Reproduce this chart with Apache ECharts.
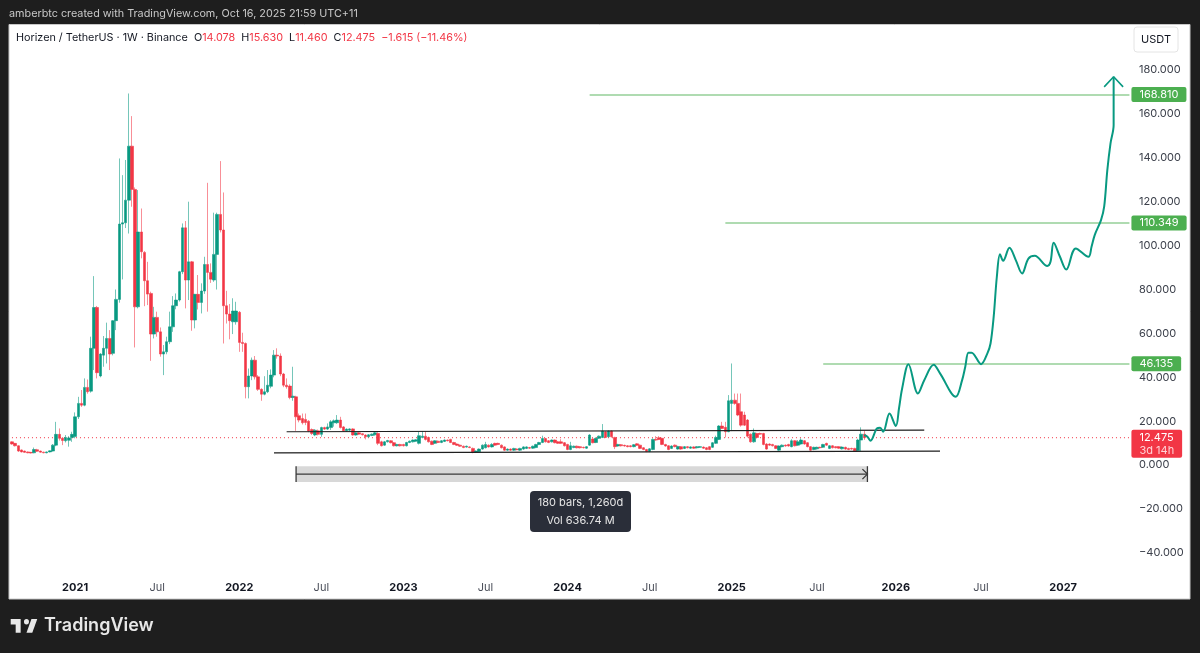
<!DOCTYPE html>
<html>
<head>
<meta charset="utf-8">
<title>Horizen / TetherUS</title>
<style>
html, body { margin: 0; padding: 0; background: #1e1e1e; }
#main { width: 1200px; height: 653px; }
</style>
<script src="https://cdn.jsdelivr.net/npm/echarts@6/dist/echarts.min.js"></script>
</head>
<body>
<div id="main"></div>
<script>
// weekly bars: open, close, low, high
var candles = [
[10.6,9.6,9.3,10.8],[9.9,8.8,8.5,10.1],[8.8,6.4,6,9],[6.9,6,5.8,7.1],[6.4,5.8,5.6,6.6],[6,5.6,5.4,6.2],[5.8,5.5,5.3,6],[5.6,7.1,5.4,8],[7,6.3,6,7.4],[6.4,5.9,5.7,6.6],
[5.9,5.6,5.4,6.1],[5.6,6,5.4,6.2],[6,6.5,5.8,6.7],[6.4,9.1,6.2,9.6],[9.1,14,8.6,19.7],[14,12.2,11.2,16.7],[12.2,11.2,9.1,12.8],[11.1,12.6,10.3,13.7],[11.3,12.4,8.4,13.2],[12.6,14,10.6,15.2],
[13,22,12.2,24],[22,28.1,21,31.1],[28.1,27.3,26.5,34.2],[27.3,35.4,26.8,39.5],[35.4,33.4,32.5,39],[33.7,53.2,33,58.5],[53.2,71.8,43.3,86.1],[71.8,42.1,39.5,72.5],[40.6,50.6,40,51],[50.1,53.2,44.8,58.8],
[53.2,57.7,46.3,64.9],[57.7,50.6,43.3,61.5],[50.9,65.8,50,66.1],[65.8,75.5,61.5,80],[75.5,109.8,74,139.7],[109.8,110.4,84.6,132.1],[110.4,120.7,108,139],[120.7,145.3,105.5,169.3],[145.3,125.6,117.7,159],[125.6,72.1,53.6,126.5],
[72.1,106.2,71.4,125.3],[106.2,97.2,94.2,116.9],[96.9,84,72.4,97.5],[84,77.9,72.9,92.6],[78.2,59.7,47.5,79],[59.7,67.3,57.7,72.1],[67.3,60.7,58.5,69.9],[60.7,50.6,49.4,62.7],[50.6,51.6,41,54.7],[51.6,56.2,50.5,58.5],
[56.2,63,55.1,69.9],[63,72.6,60.7,77],[72.6,75.2,71,78.2],[75.2,88.1,74.5,88.5],[88.1,108.1,87,110.1],[108.1,84.3,71.4,111.2],[84.3,92.6,75.2,120],[92.6,66.1,61.2,93],[66.1,77.8,62.3,78],[77.8,74.1,70.9,86.6],
[74.1,79.3,69.1,82.8],[79.3,91.4,78,94.9],[91.4,87.8,69.9,128.6],[87.8,84.7,83,91.9],[84.3,96,83.5,115],[96,114.2,80,115],[114.2,107.1,106,138.5],[107.1,72.6,55.4,124.2],[72.6,68.8,64.5,79.4],[68.8,65.8,57.3,73.4],
[65.3,70.2,59.7,76],[65.3,70.2,64,74.4],[69.6,55.9,51.6,70.2],[55.9,55.4,51.6,60.3],[55.4,35.7,30.4,55.9],[35.7,40.6,30.4,44],[40.6,47.8,38.7,49],[47.8,40.2,39,49.7],[40.2,34.5,33.8,41],[34.5,32.3,29.3,35],
[32.3,33.4,31.8,40.5],[33.4,36.4,32.8,43.3],[35.9,41,35,43.6],[41,50.1,40,52.4],[50.1,49.7,48.5,53.2],[49.7,41.5,40.5,50.9],[41.5,36.4,35.5,42],[36.4,35.7,34.8,39.5],[36,30.8,30,36.8],[30.8,31.4,29.3,44.8],
[31.1,22,15.6,31.6],[22.5,20.5,19.5,23.5],[21.2,19.3,18.5,23.5],[20.8,19.4,18.2,23.5],[20,15.5,15,20.5],[16.2,14.4,13.7,16.7],[13.7,15.9,13.2,16.4],[15.6,14,13.5,16.2],[14,17.1,12.9,17.5],[17.1,16.4,16,17.5],
[16.4,17.4,16,19],[17.1,19.7,16,20.5],[19.3,20.2,17.5,20.8],[19.3,20.5,18.8,22.8],[20.5,17.1,16.7,22],[17.4,15.6,15.2,17.8],[15.6,16.4,15.2,16.7],[15.9,16.5,15.5,16.8],[16.5,13.7,13.4,16.8],[13.7,14.7,13.4,15],
[14.7,14.1,13.8,15],[14.3,13.8,13.5,14.5],[13.7,12.9,11.7,14],[12.9,13.8,12.6,14.1],[13.5,14.1,13.2,14.4],[13.8,14.7,13.4,15.2],[14.4,9.9,9.1,15],[10.6,8.8,8.5,11.1],[9.1,10.6,8.8,11],[10.6,11.2,10.3,11.5],
[11.1,10.2,9.9,11.4],[10.2,8.8,8.5,10.5],[8.8,9.4,8.5,9.7],[9.4,8.8,8.5,9.7],[9.4,8.8,8.5,9.7],[8.8,10.3,8.5,10.6],[10.3,10.9,10,11.2],[10.6,11.4,10.3,11.7],[10.9,11.5,10.6,11.8],[9.9,13.4,9.4,15.2],
[12.6,13.2,12.2,15.5],[13.2,11.7,11.2,15.2],[12.6,10.6,10.3,13],[10.9,9.4,9.1,11.2],[9.9,11.1,9.6,11.4],[10.9,10.3,10,11.2],[10.3,11.1,10,11.4],[10.8,11.4,10.5,11.7],[11.4,11.1,10.8,11.7],[11.7,10.3,10,12],
[10.3,9.4,9.1,10.6],[9.6,9,8.7,9.9],[9.1,8.6,8.3,9.4],[8.6,8,7.7,8.9],[8.2,8.6,7.9,8.9],[8.3,8,7.7,8.6],[7.6,5.8,5.4,8],[5.8,6.4,5.5,6.7],[6.1,7.3,5.8,7.6],[7.3,9.1,7,9.4],
[7.9,9.4,7.6,10.6],[9.1,8.3,8,9.4],[8.3,9.4,8,10],[9.9,9.1,8.8,10.2],[9.9,9.4,9.1,10.2],[9.1,7.9,7.6,9.4],[8.3,6.8,6.5,8.6],[6.8,7.3,6.5,7.6],[7.3,6.8,6.5,7.6],[6.8,7.6,6.5,7.9],
[7.3,7,6.8,7.6],[6.8,7.6,6.5,7.9],[7.3,8.3,7,8.6],[7.6,8.3,7.3,8.6],[8,7.7,7.4,8.3],[7.7,8.6,7.4,8.9],[8,9.4,7.7,9.7],[9.4,10.3,9.1,10.6],[10.3,12.1,10,13.4],[12.1,10.6,10.3,12.4],
[11.1,10.3,10,11.4],[10.6,11.4,10.3,11.7],[11.4,10.2,9.9,11.7],[10.6,9.9,9.6,11],[10.6,9.9,9.6,11.8],[10.2,8.8,8.5,10.5],[9.4,7.1,6.8,9.7],[7.1,8.8,6.8,10.6],[8,8.6,7.7,8.9],[8.6,7.9,7.6,8.9],
[8.4,7.9,7.6,8.7],[8.1,7.9,7.6,8.4],[7.7,8.4,7.4,8.7],[9.1,13.7,8.8,14.1],[11.9,10.2,9.9,12.2],[10.3,12.2,10,12.6],[12.2,13.2,11.9,13.5],[12.6,15.5,12.3,18.7],[15.2,12.6,12.3,15.5],[12.9,15.5,12.6,15.8],
[15.5,12.9,12.6,15.8],[12.6,8.4,7.3,12.9],[8.7,9.4,8.4,9.7],[9.3,8.8,8.5,9.6],[9,8.7,8.4,9.3],[8.8,8.4,8.1,9.1],[8.8,8.4,8.1,9.1],[8.4,9.3,8.1,9.6],[9.7,9,8.7,10],[9.1,7.6,7.3,9.4],
[7.9,7.1,6.8,8.2],[7.1,6.2,5.9,7.4],[6.2,7.4,5.9,7.7],[7.1,11.7,6.8,12.2],[11.7,11.4,11.1,13.2],[12.5,11.7,11.4,13.2],[12.2,9.4,9.1,12.5],[9.4,8.7,8.4,9.7],[8.8,7.1,6.8,9.1],[7.6,8.7,7.3,9],
[9.1,8.4,8.1,9.4],[7.3,8.5,7,8.8],[8.4,7.3,7,8.7],[7.6,8.4,7.3,8.7],[8.4,7.9,7.6,8.7],[7.7,8.3,7.4,8.6],[8.3,7.7,7.4,8.6],[7.9,8.4,7.6,8.7],[8.1,8.4,7.8,8.7],[8.2,7.7,7.4,8.5],
[7.9,7.1,6.8,8.2],[8.4,7.1,6.8,8.7],[8.1,10.2,7.8,10.5],[9.9,12.6,9.6,13.4],[11.7,17.8,11.4,18.2],[17.8,16.7,16.4,19.7],[17.2,15.2,12.6,19.7],[15.2,29.3,15,31.9],[28.1,29.6,15.5,46.3],[29.6,28.1,27.5,32.6],
[28.1,22.8,22.3,32.6],[24.3,18.2,17.5,32.6],[22.8,18.2,17.8,24.3],[20.5,13.2,12.6,21],[14.1,10.6,10.2,14.4],[10.6,14.7,10.2,16.7],[14.4,12.6,12.2,14.7],[14.4,14.1,13.8,14.8],[14.4,9.4,9,14.7],[9.6,7.3,7,10],
[9.6,9.1,8.8,9.9],[9.4,8.8,8.5,9.7],[8.8,7.6,7.3,9.1],[6.8,8.7,6.5,9],[8.4,9.1,8.1,9.4],[9.1,8.7,8.4,9.4],[9.4,8.7,8.4,9.7],[8.4,11.1,8.1,11.8],[11.1,8.8,8.5,11.4],[9.1,10.6,8.8,11.4],
[9.6,11.4,9.3,12.2],[11.1,9.6,9.3,11.4],[10.2,8.4,8.1,10.5],[8.4,6.8,6.5,8.7],[7.1,8.1,6.8,8.4],[7.4,8.1,7.1,8.4],[8.1,7.9,7.6,8.4],[8.1,9.4,7.8,9.7],[9.9,9.1,8.8,10.2],[7.6,8.8,7.3,9.1],
[8.8,7.9,7.6,9.1],[8.4,7.9,7.6,8.7],[8.4,7.7,7.4,8.7],[7.4,8.2,7.1,8.5],[8.1,7.3,7,8.4],[7.6,7.1,6.8,7.9],[7.6,7.3,7,7.9],[7.6,6.5,6.2,7.9],[6.6,11.4,6.2,12],[11.4,14.09,6.2,17.2],
[14.078,12.475,11.46,15.63]
];
var barCount = 355;

// x axis ticks, by bar number
var tickBars = [20,46,72,98,124,150,176,202,228,255,280,307,333];
var tickNames = ['2021','Jul','2022','Jul','2023','Jul','2024','Jul','2025','Jul','2026','Jul','2027'];

// hand drawn forecast
var curveBars = [270,271,272,274,275,276,278,280,281,282,284,287,289,292,294,299,301,302,303,304,307,309,310,311,312,313,314,316,318,320,322,324,328,329,330,332,334,337,341,342,343,345,346,347,348,349,349];
var curveVals = [13.7,12.9,11.1,16.7,17,15.2,23.5,17.8,25.8,34.9,46,32.6,38.7,45.7,41.8,31.1,38.7,44.8,51.2,51.2,46,50.9,55.4,67.6,85.8,96.1,93.1,99,93.4,87.3,94.1,95.4,90.7,92.6,101.3,94.9,89.1,98.7,94.9,99.5,104.8,111.6,117.7,134.4,146.5,154.9,176.9];
var arrowBars = [346,349,352];
var arrowVals = [172.3,176.9,172.3];

// price targets
var levelVals = [168.81,110.349,46.135];
var levelFrom = [183,226,257];

var lastPrice = 12.475;

// range channel
var upperBars = [87,289], upperVals = [15.2,15.9];
var lowerBars = [83,294], lowerVals = [5.6,6.4];

// measure tool: first bar, last bar, top, bottom, middle
var ruler = [90,271,-0.5,-7.7,-4.1];

var chart = echarts.init(document.getElementById('main'));

var upColor = '#089981';
var downColor = '#F23645';
var levelColor = '#4CAF50';
var fontName = 'Inter, Roboto, sans-serif';

var categories = [];
var startDay = new Date(Date.UTC(2020, 7, 17));
for (var i = 0; i < barCount; i++) {
	var d = new Date(startDay.getTime() + i * 7 * 86400000);
	categories.push(d.toISOString().slice(0, 10));
}

function zipPoints(xs, ys) {
	var pts = [];
	for (var i = 0; i < xs.length; i++) {
		pts.push([xs[i], ys[i]]);
	}
	return pts;
}

function simpleLine(xs, ys, color, width, smooth, z) {
	return {
		type: 'line',
		data: zipPoints(xs, ys),
		symbol: 'none',
		smooth: smooth,
		z: z,
		silent: true,
		lineStyle: { color: color, width: width }
	};
}

var levelLines = [];
for (var k = 0; k < levelVals.length; k++) {
	levelLines.push([
		{ coord: [levelFrom[k], levelVals[k]] },
		{
			coord: [barCount - 1, levelVals[k]],
			label: { formatter: levelVals[k].toFixed(3) }
		}
	]);
}

// dotted line at the last close, its tag sits on the last bar of the axis
var priceLine = simpleLine([0, barCount - 1], [lastPrice, lastPrice], downColor, 1, false, 2);
priceLine.lineStyle.type = [1, 3];
priceLine.endLabel = {
	show: true,
	distance: 2,
	offset: [0, 6],
	formatter: '{a|' + lastPrice.toFixed(3) + '}\n{b|3d 14h}',
	backgroundColor: downColor,
	borderRadius: 2,
	padding: [1, 8, 1, 8],
	rich: {
		a: { color: '#fff', fontSize: 11, lineHeight: 13, fontFamily: fontName },
		b: { color: '#ffd2d6', fontSize: 11, lineHeight: 13, fontFamily: fontName }
	}
};

function renderRuler(params, api) {
	var left = api.coord([api.value(0), api.value(2)]);
	var right = api.coord([api.value(1), api.value(3)]);
	var mid = api.coord([api.value(1), api.value(4)])[1];
	var x0 = left[0], x1 = right[0], top = left[1], bottom = right[1];
	var stroke = { stroke: '#3a3a3a', lineWidth: 1.3, fill: null };
	return {
		type: 'group',
		children: [
			{ type: 'rect', shape: { x: x0, y: top, width: x1 - x0, height: bottom - top }, style: { fill: '#d8d8d8' } },
			{ type: 'line', shape: { x1: x0, y1: mid, x2: x1, y2: mid }, style: stroke },
			{ type: 'line', shape: { x1: x0, y1: top, x2: x0, y2: bottom }, style: stroke },
			{ type: 'line', shape: { x1: x1, y1: top, x2: x1, y2: bottom }, style: stroke },
			{ type: 'polyline', shape: { points: [[x1 - 5, mid - 5], [x1, mid], [x1 - 5, mid + 5]] }, style: stroke }
		]
	};
}

var option = {
	animation: false,
	backgroundColor: '#1e1e1e',
	textStyle: { fontFamily: fontName },
	graphic: [
		{ type: 'rect', z: -10, shape: { x: 9, y: 24.5, width: 1181, height: 574.5 }, style: { fill: '#fff', stroke: '#c8c8c8', lineWidth: 1 } },
		{ type: 'text', x: 9, y: 8, style: { text: 'amberbtc created with TradingView.com, Oct 16, 2025 21:59 UTC+11', fill: '#c9c9c9', font: '10.8px ' + fontName } },
		{
			type: 'text', x: 16, y: 32, z: 20,
			style: {
				text: '{k|Horizen / TetherUS · 1W · Binance}  {k|O}{r|14.078}  {k|H}{r|15.630}  {k|L}{r|11.460}  {k|C}{r|12.475}  {r|−1.615 (−11.46%)}',
				font: '10.8px ' + fontName,
				rich: {
					k: { fill: '#131722', fontSize: 10.8, fontFamily: fontName },
					r: { fill: downColor, fontSize: 10.8, fontFamily: fontName }
				}
			}
		},
		{ type: 'rect', z: 20, shape: { x: 1134, y: 27, width: 44, height: 25, r: 3 }, style: { fill: '#fff', stroke: '#e4e4e4', lineWidth: 1 } },
		{ type: 'text', z: 21, x: 1156, y: 39.5, style: { text: 'USDT', fill: '#131722', font: '11px ' + fontName, align: 'center', verticalAlign: 'middle' } },
		{ type: 'rect', z: 20, shape: { x: 530, y: 491, width: 101, height: 41, r: 4 }, style: { fill: '#2a2e39' } },
		{ type: 'text', z: 21, x: 580.5, y: 503, style: { text: '180 bars, 1,260d', fill: '#e6e6e6', font: '11px ' + fontName, align: 'center', verticalAlign: 'middle' } },
		{ type: 'text', z: 21, x: 580.5, y: 521, style: { text: 'Vol 636.74 M', fill: '#e6e6e6', font: '11px ' + fontName, align: 'center', verticalAlign: 'middle' } },
		{
			type: 'group', x: 10.7, y: 619, scaleX: 0.83, scaleY: 0.91, z: 20,
			children: [
				{ type: 'polygon', shape: { points: [[0,0],[12,0],[12,15],[6,15],[6,6],[0,6]] }, style: { fill: '#e8e8e8' } },
				{ type: 'circle', shape: { cx: 19, cy: 3, r: 3 }, style: { fill: '#e8e8e8' } },
				{ type: 'polygon', shape: { points: [[25,0],[32,0],[26,15],[19,15]] }, style: { fill: '#e8e8e8' } }
			]
		},
		{ type: 'text', z: 20, x: 44, y: 626, style: { text: 'TradingView', fill: '#e8e8e8', font: '600 18px ' + fontName, verticalAlign: 'middle' } }
	],
	grid: { left: 10.4, right: 69, top: 26.1, height: 570.7, containLabel: false },
	xAxis: {
		type: 'category',
		data: categories,
		boundaryGap: true,
		axisLine: { show: false },
		axisTick: { show: false },
		splitLine: { show: false },
		axisLabel: {
			inside: true,
			margin: 4,
			verticalAlign: 'bottom',
			interval: function (index) {
				return tickBars.indexOf(index) >= 0;
			},
			formatter: function (value, index) {
				var name = tickNames[tickBars.indexOf(index)];
				return name == 'Jul' ? '{m|' + name + '}' : '{y|' + name + '}';
			},
			rich: {
				m: { color: '#4a4e59', fontSize: 11, fontFamily: fontName },
				y: { color: '#131722', fontSize: 11, fontWeight: 'bold', fontFamily: fontName }
			}
		}
	},
	yAxis: {
		type: 'value',
		position: 'right',
		min: -60,
		max: 200,
		interval: 20,
		splitLine: { show: false },
		axisLine: { show: false },
		axisTick: { show: false },
		axisLabel: {
			color: '#3c404b',
			fontSize: 11,
			margin: 8,
			fontFamily: fontName,
			formatter: function (v) {
				if (v == -60 || v == 200) {
					return '';
				}
				return (v < 0 ? '−' + (-v).toFixed(3) : v.toFixed(3));
			}
		}
	},
	series: [
		{
			type: 'custom',
			data: [ruler],
			encode: { x: [0, 1], y: [2, 3, 4] },
			renderItem: renderRuler,
			silent: true,
			z: 1
		},
		priceLine,
		{
			type: 'candlestick',
			data: candles,
			barWidth: 3,
			z: 3,
			itemStyle: {
				color: upColor,
				color0: downColor,
				borderColor: 'rgba(8,153,129,0.7)',
				borderColor0: 'rgba(242,54,69,0.7)',
				borderWidth: 0.8
			}
		},
		simpleLine(upperBars, upperVals, '#1f1f1f', 1.2, false, 4),
		simpleLine(lowerBars, lowerVals, '#1f1f1f', 1.2, false, 4),
		{
			type: 'line',
			data: [],
			z: 4,
			markLine: {
				silent: true,
				symbol: 'none',
				animation: false,
				lineStyle: { color: 'rgba(76,175,80,0.6)', width: 1.6, type: 'solid', opacity: 1 },
				label: {
					show: true,
					position: 'end',
					distance: 2,
					color: '#fff',
					fontSize: 11,
					fontFamily: fontName,
					backgroundColor: levelColor,
					borderRadius: 2,
					padding: [2, 8, 2, 8]
				},
				data: levelLines
			}
		},
		simpleLine(curveBars, curveVals, upColor, 2, 0.35, 5),
		simpleLine(arrowBars, arrowVals, upColor, 1.6, false, 5)
	]
};

chart.setOption(option);
</script>
</body>
</html>
